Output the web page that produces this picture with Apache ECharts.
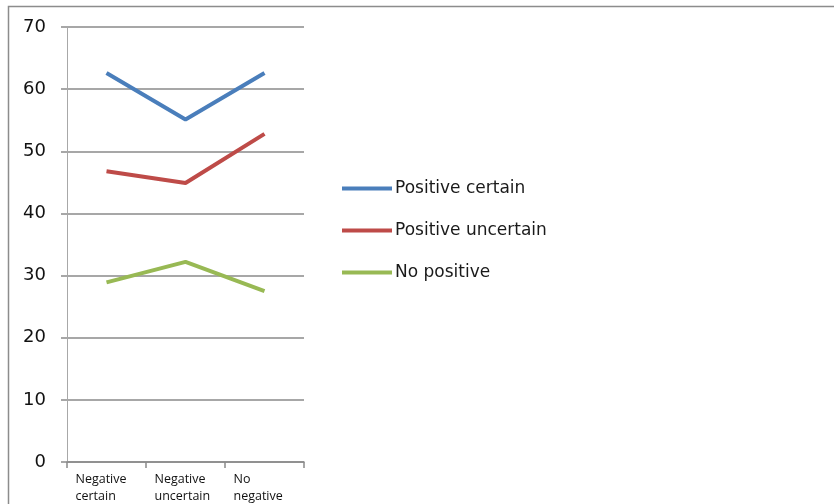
<!DOCTYPE html>
<html>
<head>
<meta charset="utf-8">
<script src="https://cdn.jsdelivr.net/npm/echarts@6/dist/echarts.min.js"></script>
<style>
  html, body { margin: 0; padding: 0; background: #fff; }
  #chart { width: 834px; height: 504px; }
</style>
</head>
<body>
<div id="chart"></div>
<script>
// Categories along the x axis (two-line labels)
const categories = ['Negative\ncertain', 'Negative\nuncertain', 'No\nnegative'];

// Series values
const positiveCertain = [62.6, 55.1, 62.6];
const positiveUncertain = [46.8, 44.9, 52.8];
const noPositive = [28.9, 32.2, 27.5];

// Y axis range and step
const yMin = 0;
const yMax = 70;
const yStep = 10;

const seriesNames = ['Positive certain', 'Positive uncertain', 'No positive'];
const seriesColors = ['#4a7ebb', '#be4b48', '#98b954'];
const seriesData = [positiveCertain, positiveUncertain, noPositive];

const chart = echarts.init(document.getElementById('chart'), null, { renderer: 'canvas' });

chart.setOption({
  animation: false,
  backgroundColor: '#ffffff',
  graphic: [{
    type: 'rect',
    shape: { x: 8.5, y: 6.5, width: 900, height: 600 },
    style: { fill: 'none', stroke: '#8c8c8c', lineWidth: 1.5 },
    silent: true
  }],
  grid: { left: 67, right: 530, top: 27, bottom: 42 },
  legend: {
    orient: 'vertical',
    left: 342,
    top: 180,
    padding: 0,
    icon: 'rect',
    itemWidth: 50,
    itemHeight: 4,
    itemGap: 25,
    data: seriesNames,
    textStyle: { fontFamily: 'DejaVu Sans', fontSize: 17, color: '#1a1a1a', padding: [0, 0, 0, -2] }
  },
  xAxis: {
    type: 'category',
    data: categories,
    boundaryGap: true,
    axisLine: { show: true, lineStyle: { color: '#8a8a8a', width: 1.5 } },
    axisTick: { show: true, length: 6, lineStyle: { color: '#8a8a8a', width: 1.5 } },
    axisLabel: {
      margin: 9,
      interval: 0,
      formatter: function (v) {
        return v.split('\n').map(function (s) { return '{a|' + s + '}'; }).join('\n');
      },
      rich: {
        a: { width: 62, align: 'left', fontFamily: 'Open Sans', fontSize: 12.5, lineHeight: 17, color: '#111111' }
      }
    }
  },
  yAxis: {
    type: 'value',
    min: yMin,
    max: yMax,
    interval: yStep,
    axisLine: { show: true, lineStyle: { color: '#a8a8a8', width: 1 } },
    axisTick: { show: true, length: 6, lineStyle: { color: '#8a8a8a', width: 1.5 } },
    axisLabel: { margin: 21, fontFamily: 'DejaVu Sans', fontSize: 18, color: '#111111' },
    splitLine: { show: true, lineStyle: { color: '#8a8a8a', width: 1.5 } }
  },
  series: seriesData.map(function (d, i) {
    return {
      name: seriesNames[i],
      type: 'line',
      data: d,
      symbol: 'none',
      color: seriesColors[i],
      lineStyle: { color: seriesColors[i], width: 4 }
    };
  })
});
</script>
</body>
</html>
